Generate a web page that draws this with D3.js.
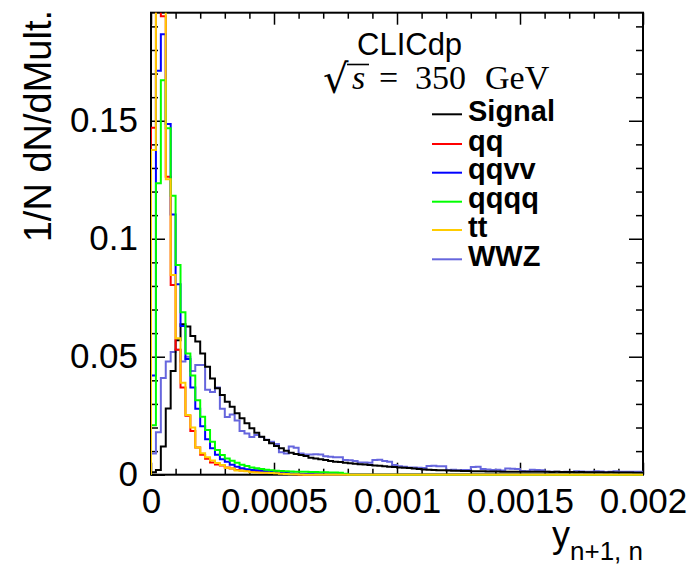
<!DOCTYPE html>
<html><head><meta charset="utf-8">
<script src="https://cdn.jsdelivr.net/npm/d3@7"></script>
<style>
body{margin:0;background:#fff;}
svg{display:block;}
</style></head><body>
<svg id="c" width="700" height="567" font-family="Liberation Sans, Arial, Helvetica, sans-serif"></svg>
<script>
// ---------- data ----------
const xDomain = [0, 0.002];
const nBins = 100;
const xTickValues = [0, 0.0005, 0.001, 0.0015, 0.002];
const xTickLabels = ["0", "0.0005", "0.001", "0.0015", "0.002"];
const yTickValues = [0, 0.05, 0.1, 0.15];
const yTickLabels = ["0", "0.05", "0.1", "0.15"];
const seriesNames = ["Signal", "qq", "qqvv", "qqqq", "tt", "WWZ"];
const seriesColors = ["#000000", "#ff0000", "#0000ff", "#00ff00", "#ffcc00", "#6666dd"];

const signal = [
 0.001, 0.002, 0.0119, 0.0281, 0.044, 0.057, 0.0638, 0.0628, 0.0588, 0.0565,
 0.0514, 0.0458, 0.0408, 0.0366, 0.0338, 0.0309, 0.0288, 0.026, 0.0239, 0.0218,
 0.0197, 0.0178, 0.0161, 0.0147, 0.0133, 0.0122, 0.0112, 0.0102, 0.0093, 0.0088,
 0.0083, 0.0079, 0.0072, 0.0069, 0.0066, 0.0062, 0.0058, 0.0055, 0.0054, 0.0051,
 0.0048, 0.0046, 0.0044, 0.0043, 0.0041, 0.0039, 0.0038, 0.0036, 0.0034, 0.0033,
 0.0031, 0.0029, 0.0028, 0.0026, 0.0024, 0.0022, 0.0021, 0.002, 0.0019, 0.0019,
 0.0018, 0.0017, 0.0017, 0.0016, 0.0016, 0.0015, 0.0015, 0.0015, 0.0014, 0.0014,
 0.0014, 0.0013, 0.0013, 0.0013, 0.0013, 0.0013, 0.0012, 0.0013, 0.0012, 0.0012,
 0.0012, 0.0011, 0.0012, 0.0011, 0.0011, 0.0011, 0.001, 0.0011, 0.001, 0.001,
 0.001, 0.001, 0.0009, 0.001, 0.0009, 0.0009, 0.0009, 0.0009, 0.0008, 0.0008];

const qq = [
 0.147, 0.24, 0.1943, 0.1263, 0.0804, 0.053, 0.037, 0.025, 0.0185, 0.0115,
 0.0085, 0.0068, 0.0052, 0.0043, 0.0039, 0.003, 0.0026, 0.002, 0.0018, 0.0016,
 0.0013, 0.0012, 0.001, 0.0009, 0.0009, 0.0011, 0.0006, 0.0004, 0.0003, 0.0002,
 0.0001, 0, 0, 0, 0, 0, 0, 0, 0, 0,
 0, 0, 0, 0, 0, 0, 0, 0, 0, 0,
 0, 0, 0, 0, 0, 0, 0, 0, 0, 0,
 0, 0, 0, 0, 0, 0, 0, 0, 0, 0,
 0, 0, 0, 0, 0, 0, 0, 0, 0, 0,
 0, 0, 0, 0, 0, 0, 0, 0, 0, 0,
 0, 0, 0, 0, 0, 0, 0, 0, 0, 0];

const qqvv = [
 0.042, 0.1712, 0.1867, 0.1486, 0.1103, 0.0807, 0.063, 0.049, 0.037, 0.028,
 0.0205, 0.015, 0.0112, 0.0085, 0.0066, 0.0055, 0.0042, 0.0034, 0.0027, 0.0023,
 0.002, 0.0019, 0.0017, 0.0015, 0.0012, 0.001, 0.0008, 0.0007, 0.0005, 0.0004,
 0.0003, 0.0002, 0.0002, 0.0001, 0.0001, 0, 0, 0, 0, 0,
 0, 0, 0, 0, 0, 0, 0, 0, 0, 0,
 0, 0, 0, 0, 0, 0, 0, 0, 0, 0,
 0, 0, 0, 0, 0, 0, 0, 0, 0, 0,
 0, 0, 0, 0, 0, 0, 0, 0, 0, 0,
 0, 0, 0, 0, 0, 0, 0, 0, 0, 0,
 0, 0, 0, 0, 0, 0, 0, 0, 0, 0];

const qqqq = [
 0.021, 0.1235, 0.1672, 0.1468, 0.1182, 0.0889, 0.0688, 0.0514, 0.042, 0.0316,
 0.0246, 0.0189, 0.014, 0.0105, 0.0083, 0.0069, 0.0059, 0.0051, 0.0042, 0.0037,
 0.0031, 0.0027, 0.0024, 0.0021, 0.0019, 0.0017, 0.0016, 0.0015, 0.0014, 0.0013,
 0.0013, 0.0012, 0.0011, 0.0011, 0.001, 0.001, 0.0009, 0.0009, 0.0008, 0.0004,
 0, 0, 0, 0, 0, 0, 0, 0, 0, 0,
 0, 0, 0, 0, 0, 0, 0, 0, 0, 0,
 0, 0, 0, 0, 0, 0, 0, 0, 0, 0,
 0, 0, 0, 0, 0, 0, 0, 0, 0, 0,
 0, 0, 0, 0, 0, 0, 0, 0, 0, 0,
 0, 0, 0, 0, 0, 0, 0, 0, 0, 0];

const tt = [
 0.1376, 0.26, 0.215, 0.1252, 0.0846, 0.0578, 0.039, 0.0253, 0.02, 0.0115,
 0.0091, 0.0074, 0.006, 0.005, 0.0041, 0.0029, 0.0026, 0.0018, 0.0017, 0.0015,
 0.001, 0.0009, 0.0008, 0.0008, 0.0007, 0.0006, 0.0004, 0.0003, 0.0002, 0.0002,
 0.0001, 0, 0, 0, 0, 0, 0, 0, 0, 0,
 0, 0, 0, 0, 0, 0, 0, 0, 0, 0,
 0, 0, 0, 0, 0, 0, 0, 0, 0, 0,
 0, 0, 0, 0, 0, 0, 0, 0, 0, 0,
 0, 0, 0, 0, 0, 0, 0, 0, 0, 0,
 0, 0, 0, 0, 0, 0, 0, 0, 0, 0,
 0, 0, 0, 0, 0, 0, 0, 0, 0, 0];

const wwz = [
 0.009, 0.018, 0.041, 0.048, 0.052, 0.053, 0.048, 0.05, 0.044, 0.0465,
 0.0465, 0.036, 0.035, 0.037, 0.028, 0.0245, 0.0255, 0.023, 0.0185, 0.0175,
 0.016, 0.0168, 0.016, 0.0148, 0.014, 0.013, 0.0095, 0.009, 0.0119, 0.0114,
 0.009, 0.0086, 0.0086, 0.0087, 0.0086, 0.0078, 0.0076, 0.0074, 0.0074, 0.0062,
 0.0061, 0.0058, 0.0052, 0.0052, 0.0051, 0.0062, 0.0063, 0.0058, 0.0055, 0.0041,
 0.0036, 0.0034, 0.003, 0.003, 0.0029, 0.0028, 0.0037, 0.0038, 0.0036, 0.0036,
 0.002, 0.0021, 0.0019, 0.002, 0.002, 0.0033, 0.0034, 0.0024, 0.0022, 0.002,
 0.0021, 0.0018, 0.0026, 0.0025, 0.0024, 0.0016, 0.0015, 0.0021, 0.002, 0.0019,
 0.0013, 0.0012, 0.0013, 0.0011, 0.0012, 0.0011, 0.0015, 0.0014, 0.0012, 0.0012,
 0.0015, 0.0014, 0.0011, 0.0012, 0.0015, 0.0013, 0.0012, 0.0012, 0.0012, 0.0013];

const seriesValues = [signal, qq, qqvv, qqqq, tt, wwz];
const drawOrder = [5, 0, 1, 2, 3, 4];

// ---------- layout ----------
const svg = d3.select("#c");
const SANS = "Liberation Sans, Arial, Helvetica, sans-serif";
const SERIF = "Liberation Serif, DejaVu Serif, serif";
const X0 = 151, X1 = 643, Y0 = 474.7, Y1 = 12.7;
const x = d3.scaleLinear().domain(xDomain).range([X0, X1]);
const y = d3.scaleLinear().domain([0, 0.1958]).range([Y0, Y1]);
const binW = (xDomain[1] - xDomain[0]) / nBins;

// frame
svg.append("rect").attr("x", X0).attr("y", Y1).attr("width", X1 - X0).attr("height", Y0 - Y1)
  .attr("fill", "none").attr("stroke", "#000").attr("stroke-width", 2);

// ticks (drawn under histograms)
const xMinor = d3.range(1, 20).map(i => i * 0.0001).filter(v => Math.abs(v / 0.0005 - Math.round(v / 0.0005)) > 1e-6);
const yMinor = d3.range(1, 20).map(i => i * 0.01).filter(v => Math.abs(v / 0.05 - Math.round(v / 0.05)) > 1e-6);

function styleAxis(g) {
  g.select(".domain").remove();
  g.selectAll(".tick line").attr("stroke", "#000").attr("stroke-width", 1.5);
}
function styleLabels(g) {
  g.selectAll("text").style("font-size", "35px").style("font-family", SANS).attr("fill", "#000");
}
svg.append("g").attr("transform", `translate(0,${Y0})`)
  .call(d3.axisBottom(x).tickValues(xMinor).tickSize(-6).tickFormat(""))
  .call(styleAxis);
svg.append("g").attr("transform", `translate(0,${Y0})`)
  .call(d3.axisBottom(x).tickValues(xTickValues).tickSize(-12).tickPadding(13)
    .tickFormat((d, i) => xTickLabels[i]))
  .call(styleAxis).call(styleLabels);
svg.append("g").attr("transform", `translate(0,${Y1})`)
  .call(d3.axisTop(x).tickValues(xMinor).tickSize(-6).tickFormat(""))
  .call(styleAxis);
svg.append("g").attr("transform", `translate(0,${Y1})`)
  .call(d3.axisTop(x).tickValues(xTickValues).tickSize(-12).tickFormat(""))
  .call(styleAxis);

svg.append("g").attr("transform", `translate(${X0},0)`)
  .call(d3.axisLeft(y).tickValues(yMinor).tickSize(-7).tickFormat(""))
  .call(styleAxis);
svg.append("g").attr("transform", `translate(${X0},0)`)
  .call(d3.axisLeft(y).tickValues(yTickValues).tickSize(-14).tickPadding(13)
    .tickFormat((d, i) => yTickLabels[i]))
  .call(styleAxis).call(styleLabels);
svg.append("g").attr("transform", `translate(${X1},0)`)
  .call(d3.axisRight(y).tickValues(yMinor).tickSize(-7).tickFormat(""))
  .call(styleAxis);
svg.append("g").attr("transform", `translate(${X1},0)`)
  .call(d3.axisRight(y).tickValues(yTickValues).tickSize(-14).tickFormat(""))
  .call(styleAxis);

// histograms
svg.append("clipPath").attr("id", "plotclip").append("rect")
  .attr("x", X0).attr("y", Y1).attr("width", X1 - X0).attr("height", Y0 - Y1 + 2);
const line = d3.line().x(d => x(d[0])).y(d => y(d[1])).curve(d3.curveStepAfter);
const hg = svg.append("g").attr("clip-path", "url(#plotclip)");
drawOrder.forEach(k => {
  const vals = seriesValues[k];
  const pts = [[xDomain[0], 0]];
  vals.forEach((v, i) => pts.push([xDomain[0] + i * binW, v]));
  pts.push([xDomain[1], vals[vals.length - 1]]);
  pts.push([xDomain[1], 0]);
  hg.append("path").attr("d", line(pts)).attr("fill", "none")
    .attr("stroke", seriesColors[k]).attr("stroke-width", 2);
});

// axis titles
svg.append("text").attr("transform", "translate(51,10) rotate(-90)")
  .attr("text-anchor", "end").style("font-size", "38px").style("font-family", SANS).text("1/N dN/dMult.");
const xt = svg.append("text").attr("x", 643).attr("y", 547).attr("text-anchor", "end")
  .style("font-size", "36px").style("font-family", SANS);
xt.append("tspan").text("y");
xt.append("tspan").style("font-size", "26px").attr("dy", 13).text("n+1, n");

// CLICdp label
svg.append("text").attr("x", 357).attr("y", 55).style("font-size", "31px").style("font-family", SANS).text("CLICdp");
const en = svg.append("text").attr("y", 89).style("font-size", "34px").style("font-family", SERIF);
en.append("tspan").attr("x", 323).attr("dy", 4).style("font-size", "40px").style("font-family", "DejaVu Serif, serif").text("√");
en.append("tspan").attr("x", 352).attr("dy", -4).style("font-style", "italic").text("s");
en.append("tspan").attr("x", 379).text("=");
en.append("tspan").attr("x", 415).text("350");
en.append("tspan").attr("x", 485).text("GeV");
svg.append("line").attr("x1", 347).attr("x2", 369).attr("y1", 64.5).attr("y2", 64.5).attr("stroke", "#000").attr("stroke-width", 1.6);

// legend
const legY = [114.3, 144, 172.7, 201.7, 230, 259.3];
seriesNames.forEach((nm, k) => {
  svg.append("line").attr("x1", 432).attr("x2", 462).attr("y1", legY[k]).attr("y2", legY[k])
    .attr("stroke", seriesColors[k]).attr("stroke-width", 2);
  svg.append("text").attr("x", 468).attr("y", legY[k] + 6.5).style("font-size", "29px")
    .style("font-family", SANS).style("font-weight", "bold").text(nm);
});
</script>
</body></html>
